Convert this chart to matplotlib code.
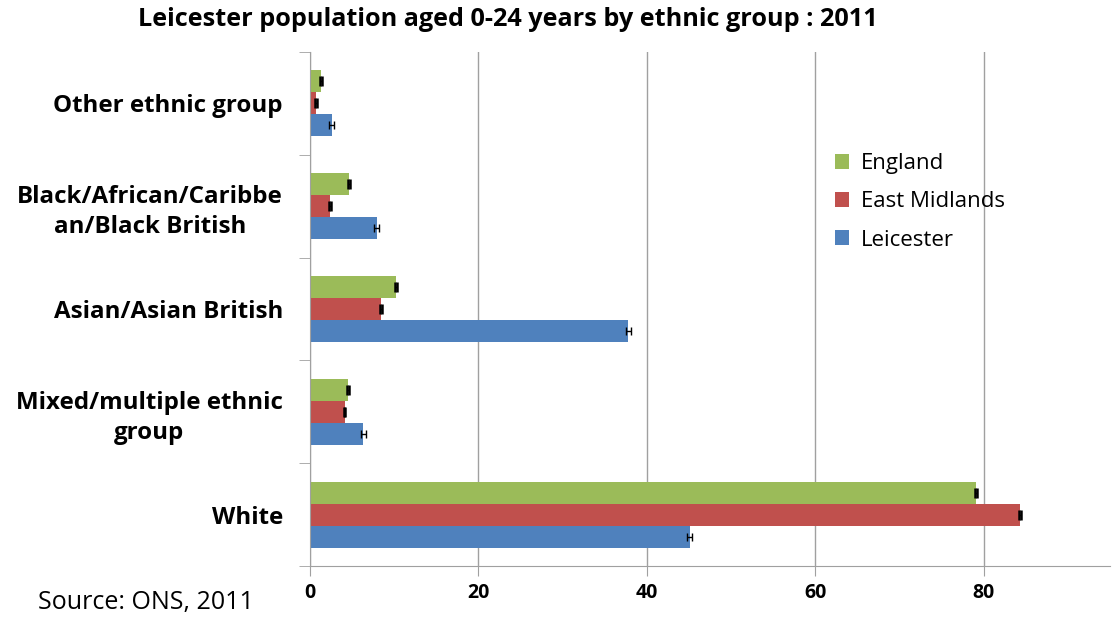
import numpy as np
import matplotlib.pyplot as plt

groups = ["White", "Mixed/multiple ethnic\ngroup", "Asian/Asian British",
          "Black/African/Caribbe\nan/Black British", "Other ethnic group"]
leicester = [45.1, 6.3, 37.8, 7.9, 2.6]
east_midlands = [84.3, 4.1, 8.4, 2.4, 0.7]
england = [79.1, 4.5, 10.2, 4.6, 1.3]
leicester_err = [0.3, 0.3, 0.3, 0.3, 0.3]
em_err = [0.1, 0.1, 0.1, 0.1, 0.1]
eng_err = [0.1, 0.1, 0.1, 0.1, 0.1]

plt.rcParams['font.family'] = ['Open Sans', 'DejaVu Sans']

fig = plt.figure(figsize=(11.17, 6.17), dpi=100)
ax = fig.add_axes([310 / 1117, 51 / 617, 800 / 1117, 514 / 617])

y = np.arange(len(groups))
h = 0.214
series = [(leicester, leicester_err, -h, "#4F81BD", "Leicester", 3, 1),
          (east_midlands, em_err, 0, "#C0504D", "East Midlands", 3.5, 1.8),
          (england, eng_err, h, "#9BBB59", "England", 3.5, 1.8)]
handles = {}
for vals, err, off, col, name, cap, ct in series:
    b = ax.barh(y + off, vals, height=h, color=col, zorder=2, label=name)
    ax.errorbar(vals, y + off, xerr=err, fmt='none', ecolor='black',
                elinewidth=1, capsize=cap, capthick=ct, zorder=3)
    handles[name] = b

ax.set_xlim(0, 95)
ax.set_ylim(-0.5, len(groups) - 0.5)
ax.set_xticks([0, 20, 40, 60, 80])
ax.set_xticklabels(["0", "20", "40", "60", "80"], fontsize=14, fontweight='bold')
ax.tick_params(axis='x', length=7, color='#A0A0A0', pad=5)
ax.xaxis.grid(True, color='#A0A0A0', linewidth=1)
ax.set_axisbelow(True)

ax.set_yticks(y)
ax.set_yticklabels(groups, fontsize=17.4, fontweight='bold', ha='right',
                   multialignment='center', linespacing=1.35)
ax.tick_params(axis='y', which='major', length=0, pad=19.5)
ax.set_yticks(np.arange(-0.5, len(groups)), minor=True)
ax.tick_params(axis='y', which='minor', length=8, color='#A0A0A0')

for s in ['top', 'right']:
    ax.spines[s].set_visible(False)
for s in ['left', 'bottom']:
    ax.spines[s].set_color('#A0A0A0')

ax.legend([handles["England"], handles["East Midlands"], handles["Leicester"]],
          ["England", "East Midlands", "Leicester"],
          loc='upper left', bbox_to_anchor=(815 / 1117, 1 - 133 / 617),
          bbox_transform=fig.transFigure, frameon=False, fontsize=16,
          handlelength=0.65, handleheight=0.65, labelspacing=0.78, handletextpad=0.5)

fig.text(508 / 1117, 1 - 20 / 617, "Leicester population aged 0-24 years by ethnic group : 2011",
         ha='center', va='center', fontsize=18.2, fontweight='bold')
fig.text(38 / 1117, 1 - 603 / 617, "Source: ONS, 2011", ha='left', va='center', fontsize=18)

fig.savefig("out.png", dpi=100, facecolor='white')
